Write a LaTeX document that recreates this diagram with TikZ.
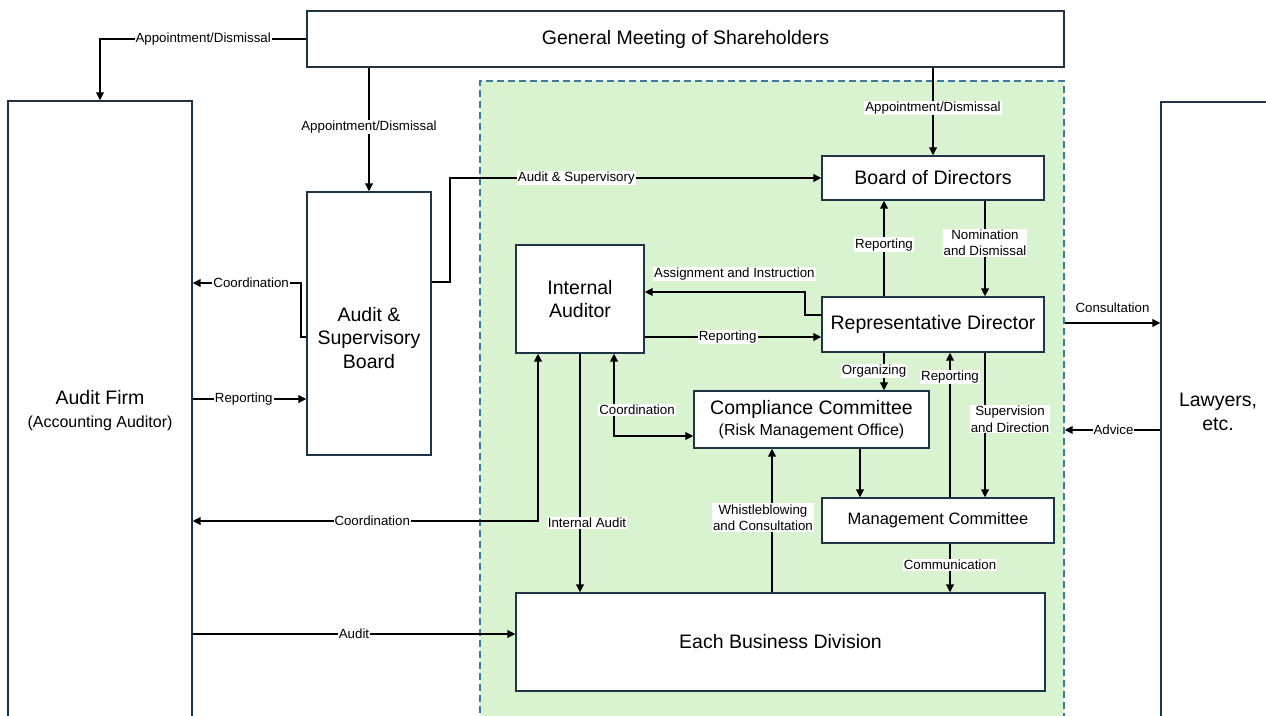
\documentclass[tikz,border=0pt]{standalone}
\usepackage{fontspec}
\setmainfont{Liberation Sans}
\usetikzlibrary{arrows.meta,calc}
\definecolor{boxline}{RGB}{32,52,72}
\definecolor{greenfill}{RGB}{217,242,208}
\definecolor{dashblue}{RGB}{62,122,160}
\newcommand{\rsMain}{\fontsize{19.5}{23.5}\selectfont}
\newcommand{\rsSub}{\fontsize{16}{19}\selectfont}
\newcommand{\rsLbl}{\fontsize{13.3}{16.5}\selectfont}
\begin{document}
\begin{tikzpicture}[x=1pt,y=-1pt,
  box/.style={draw=boxline, line width=1.2pt, fill=white, inner sep=0pt, align=center, font=\rsMain},
  conn/.style={draw=black, line width=2pt, -{Triangle[length=8pt,width=7.5pt]}},
  conntwo/.style={draw=black, line width=2pt, {Triangle[length=8pt,width=7.5pt]}-{Triangle[length=8pt,width=7.5pt]}},
  lbl/.style={fill=white, inner sep=1pt, align=center, font=\rsLbl, text=black},
]
\useasboundingbox (0,0) rectangle (1266,715);
\clip (0,0) rectangle (1266,715);
\fill[white] (0,0) rectangle (1266,715);

% green frame
\node[draw=dashblue, fill=greenfill, line width=1.2pt, dash pattern=on 7pt off 4pt,
      minimum width=584pt, minimum height=649pt, inner sep=0pt] (frame) at (772,405.5) {};

% boxes
\node[box, minimum width=757pt, minimum height=56pt] (gms) at (685.5,39) {General Meeting of Shareholders};
\node[box, minimum width=184pt, minimum height=619pt] (firm) at (100,410.5) {Audit Firm\\{\rsSub (Accounting Auditor)}};
\node[box, minimum width=114pt, minimum height=620pt] (law) at (1218,412) {Lawyers,\\etc.};
\node[box, minimum width=124pt, minimum height=263pt] (asb) at (369,323.5) {};
\node[font=\rsMain, align=center, inner sep=0pt] (asbtext) at (369,338) {Audit \&\\Supervisory\\Board};
\node[box, minimum width=222pt, minimum height=44pt] (bod) at (933,178) {Board of Directors};
\node[box, minimum width=128pt, minimum height=108pt] (ia) at (580,299) {Internal\\Auditor};
\node[box, minimum width=222pt, minimum height=55pt] (rd) at (933,324.5) {Representative Director};
\node[box, minimum width=235pt, minimum height=57pt] (cc) at (811.5,419.5) {Compliance Committee\\[-2pt]{\rsSub (Risk Management Office)}};
\node[box, minimum width=232pt, minimum height=45pt, font=\fontsize{16.5}{20}\selectfont] (mc) at (938,520.5) {Management Committee};
\node[box, minimum width=529pt, minimum height=98pt] (ebd) at (780.5,642) {Each Business Division};

% helper coordinates
\coordinate (k1) at (450,282);
\coordinate (c1) at (301,337);
\coordinate (a1) at (805,315);

% connectors
\draw[conn] (gms.west) -| node[lbl, pos=0.25] {Appointment/Dismissal} (firm.north);
\draw[conn] (gms.south -| asb.north) -- node[lbl, pos=0.48] {Appointment/Dismissal} (asb.north);
\draw[conn] (gms.south -| bod.north) -- node[lbl, pos=0.46] {Appointment/Dismissal} (bod.north);
\draw[conn] (asb.east |- k1) -- (k1) |- node[lbl, pos=0.67] {Audit \& Supervisory} (bod.west);
\draw[conn] (asb.west |- c1) -- (c1) |- node[lbl, pos=0.73] {Coordination} (firm.east |- 0,283);
\draw[conn] (firm.east |- 0,399) -- node[lbl, pos=0.45] {Reporting} (asb.west |- 0,399);
\draw[conntwo] (firm.east |- 0,521) -| node[lbl, pos=0.26] {Coordination} (ia.south -| 538,0);
\draw[conn] (ia.south) -- node[lbl, pos=0.71, xshift=7pt] {Internal Audit} (ebd.north -| ia.south);
\draw[conntwo] (ia.south -| 614,0) |- node[lbl, pos=0.34, xshift=23pt] {Coordination} (cc.west |- 0,436);
\draw[conn] (rd.west |- a1) -- (a1) |- node[lbl, pos=0.72, yshift=18pt] {Assignment and Instruction} (ia.east |- 0,292);
\draw[conn] (ia.east |- 0,337) -- node[lbl, pos=0.47] {Reporting} (rd.west |- 0,337);
\draw[conn] (rd.north -| 884,0) -- node[lbl, pos=0.54] {Reporting} (bod.south -| 884,0);
\draw[conn] (bod.south -| 985,0) -- node[lbl, pos=0.44] {Nomination\\and Dismissal} (rd.north -| 985,0);
\draw[conn] (rd.south -| 884,0) -- node[lbl, pos=0.49, xshift=-10pt] {Organizing} (cc.north -| 884,0);
\draw[conn] (mc.north -| 950,0) -- node[lbl, pos=0.83] {Reporting} (rd.south -| 950,0);
\draw[conn] (rd.south -| 985,0) -- node[lbl, pos=0.46, xshift=25pt] {Supervision\\and Direction} (mc.north -| 985,0);
\draw[conn] (cc.south -| 860,0) -- (mc.north -| 860,0);
\draw[conn] (ebd.north -| 772,0) -- node[lbl, pos=0.52, xshift=-9pt] {Whistleblowing\\and Consultation} (cc.south -| 772,0);
\draw[conn] (mc.south -| 950,0) -- node[lbl, pos=0.44] {Communication} (ebd.north -| 950,0);
\draw[conn] (firm.east |- 0,634) -- node[lbl, pos=0.5] {Audit} (ebd.west |- 0,634);
\draw[conn] (frame.east |- 0,323) -- node[font=\rsLbl, inner sep=1pt, pos=0.5, yshift=15pt] {Consultation} (law.west |- 0,323);
\draw[conn] (law.west |- 0,430) -- node[lbl, pos=0.49] {Advice} (frame.east |- 0,430);
\end{tikzpicture}
\end{document}
